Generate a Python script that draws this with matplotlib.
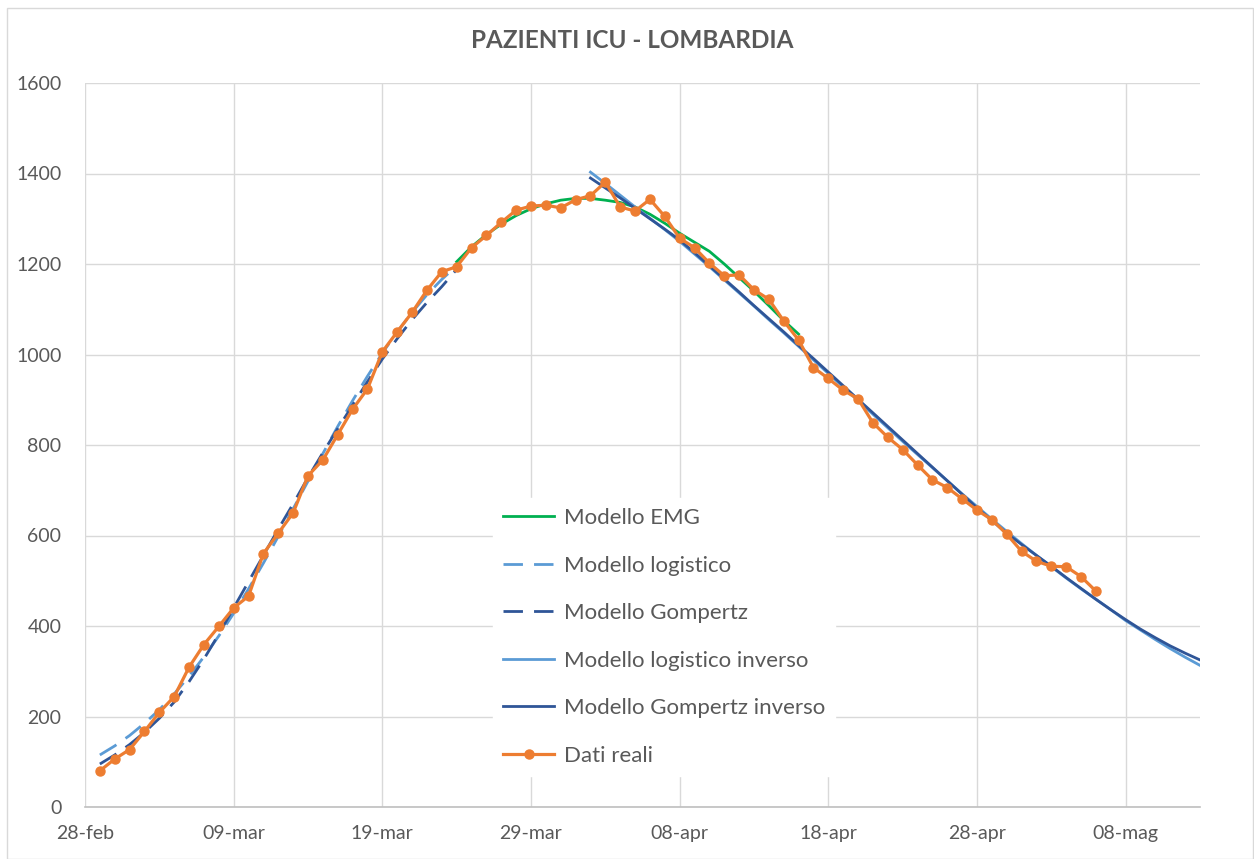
import matplotlib
matplotlib.use("Agg")
import matplotlib.pyplot as plt
from matplotlib.patches import Rectangle
import pandas as pd

plt.rcParams['font.family'] = ['Lato', 'DejaVu Sans']

# --- data ---
dati_reali = [80,
              106, 127, 167, 209, 244, 309, 359, 399, 440, 466, 560, 605, 650, 732, 767,
              823, 879, 924, 1006, 1050, 1093, 1142, 1183, 1194, 1236, 1263, 1292, 1319,
              1328, 1330, 1324,
              1342, 1351, 1381, 1326, 1317, 1343, 1305, 1257, 1236, 1202, 1174, 1176, 1143,
              1122, 1074, 1032, 971, 947, 921, 902, 849, 817, 790, 756, 723, 706, 681, 656,
              635, 603,
              565, 543, 532, 531, 509, 477]
start_reali = "2020-02-29"

modello_logistico = [115, 135, 158, 185, 215, 250, 289, 332, 378, 428, 482, 539, 598,
                     659, 720, 781, 841, 898, 952, 1003, 1050, 1093, 1132, 1166, 1196]
modello_gompertz = [95, 115, 138, 165, 196, 232, 277, 327, 382, 440, 498, 556, 614,
                    670, 728, 783, 836, 888, 940, 990, 1035, 1077, 1115, 1150, 1188]
start_crescita = "2020-02-29"

modello_emg = [1205, 1238, 1265, 1288, 1307, 1322, 1333, 1341, 1345, 1345, 1341, 1336,
               1326, 1310, 1290, 1268, 1248, 1228, 1200, 1170, 1140, 1108, 1075, 1045]
start_emg = "2020-03-24"

modello_logistico_inv = [1403, 1378, 1352, 1326, 1301, 1276, 1250, 1222, 1194, 1165,
                         1136, 1107, 1077, 1048, 1018, 988, 958, 928, 898, 868, 838, 808,
                         779, 750, 721, 692, 664, 636, 609, 582, 556, 531, 506, 482, 459,
                         436, 412, 391, 370, 350, 331, 313]
modello_gompertz_inv = [1390, 1368, 1346, 1323, 1300, 1277, 1253, 1225, 1196, 1167,
                        1138, 1108, 1079, 1050, 1020, 991, 961, 931, 901, 871, 841, 811,
                        781, 751, 721, 691, 661, 633, 605, 580, 556, 532, 507, 483, 459,
                        436, 414, 393, 374, 356, 340, 325]
start_calo = "2020-04-02"

tick_labels = ["28-feb", "09-mar", "19-mar", "29-mar", "08-apr", "18-apr", "28-apr", "08-mag"]

# colours
VERDE = "#00B050"
AZZURRO = "#5B9BD5"
BLU = "#2F5597"
ARANCIO = "#ED7D31"
GRIGIO = "#595959"
GRIGLIA = "#D9D9D9"

W, H = 1254, 859
fig = plt.figure(figsize=(W / 100, H / 100), dpi=100)
fig.patch.set_facecolor("white")
fig.add_artist(Rectangle((7 / W, 0), (W - 8) / W, 1 - 8 / H, transform=fig.transFigure,
                         fill=False, edgecolor=GRIGLIA, linewidth=1))

ax = fig.add_axes([85 / W, 52 / H, (1200 - 85) / W, (807 - 83) / H])

d_reali = pd.date_range(start_reali, periods=len(dati_reali))
d_cresc = pd.date_range(start_crescita, periods=len(modello_logistico))
d_gomp = pd.date_range(start_crescita, periods=len(modello_gompertz))
d_emg = pd.date_range(start_emg, periods=len(modello_emg))
d_calo = pd.date_range(start_calo, periods=len(modello_logistico_inv))
d_calo2 = pd.date_range(start_calo, periods=len(modello_gompertz_inv))

lw = 2.0
ax.plot(d_emg, modello_emg, color=VERDE, lw=lw, label="Modello EMG", zorder=3)
ax.plot(d_cresc, modello_logistico, color=AZZURRO, lw=lw, dashes=(7, 4),
        label="Modello logistico", zorder=3)
ax.plot(d_gomp, modello_gompertz, color=BLU, lw=lw, dashes=(7, 4),
        label="Modello Gompertz", zorder=3)
ax.plot(d_calo, modello_logistico_inv, color=AZZURRO, lw=lw,
        label="Modello logistico inverso", zorder=3)
ax.plot(d_calo2, modello_gompertz_inv, color=BLU, lw=lw,
        label="Modello Gompertz inverso", zorder=3)
ax.plot(d_reali, dati_reali, color=ARANCIO, lw=2.3, marker="o", markersize=6.5,
        label="Dati reali", zorder=4)

ax.set_xlim(pd.Timestamp("2020-02-28"), pd.Timestamp("2020-05-13"))
ax.set_ylim(0, 1600)
ax.set_yticks(range(0, 1601, 200))
ticks = pd.date_range("2020-02-28", periods=len(tick_labels), freq="10D")
ax.set_xticks(ticks)
ax.set_xticklabels(tick_labels)

ax.grid(True, color=GRIGLIA, lw=1)
ax.set_axisbelow(True)
for s in ["top", "right", "left"]:
    ax.spines[s].set_visible(False)
ax.spines["bottom"].set_color("#BFBFBF")
ax.spines["bottom"].set_linewidth(1.2)
ax.tick_params(axis="both", length=0, labelsize=14, colors=GRIGIO)
ax.tick_params(axis="y", pad=17)
ax.tick_params(axis="x", pad=13)

leg = ax.legend(loc="upper left", bbox_to_anchor=(493 / W, 1 - 498 / H),
                bbox_transform=fig.transFigure, frameon=True, fontsize=16,
                handlelength=2.3, handletextpad=0.45, labelspacing=1.24,
                borderpad=0.45, borderaxespad=0)
leg.get_frame().set_facecolor("white")
leg.get_frame().set_edgecolor("white")
leg.get_frame().set_alpha(1)
for t in leg.get_texts():
    t.set_color(GRIGIO)

fig.text(632 / W, 1 - 41 / H, "PAZIENTI ICU - LOMBARDIA", ha="center", va="center",
         fontsize=17.5, fontweight="bold", color=GRIGIO)

fig.savefig("out.png", dpi=100)
